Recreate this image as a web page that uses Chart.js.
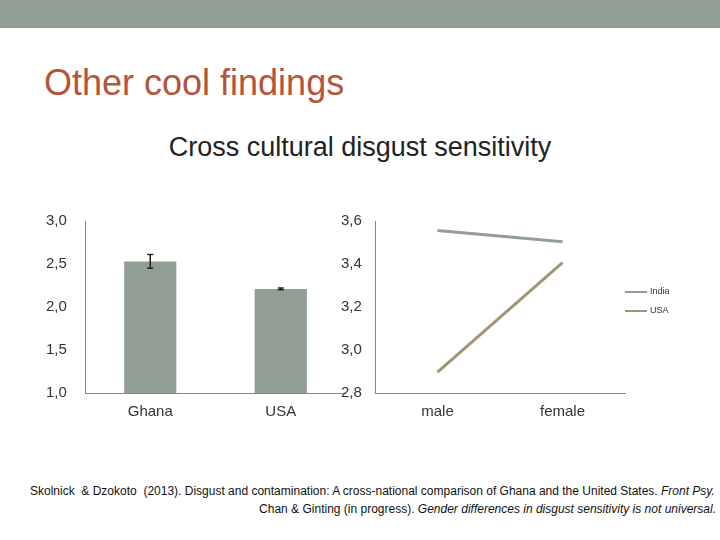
<!DOCTYPE html><html><head><meta charset="utf-8">
<script src="https://cdn.jsdelivr.net/npm/chart.js@4"></script>
<style>
body{margin:0;width:720px;height:540px;background:#fff;position:relative;overflow:hidden;font-family:"Liberation Sans",Arial,sans-serif}
#band{position:absolute;left:0;top:0;width:720px;height:28px;background:#929f95}
#t1{position:absolute;left:44px;top:62px;font-size:36px;color:#b5533c}
#t2{position:absolute;left:0;width:720px;top:132px;text-align:center;font-size:27px;color:#222}
.c{position:absolute}
#f1,#f2{position:absolute;right:4px;font-size:12px;color:#111;white-space:nowrap}
#f1{left:30px;top:484px;text-align:left}
#f2{top:502px}
.lg{position:absolute;left:625px;font-size:9px;color:#333}
.lg span{display:inline-block;width:22px;height:2px;vertical-align:middle;margin-right:3px}
</style></head><body>
<div id="band"></div>
<div id="t1">Other cool findings</div>
<div id="t2">Cross cultural disgust sensitivity</div>
<div class="c" style="left:46px;top:209px;width:300px;height:222px"><canvas id="a"></canvas></div>
<div class="c" style="left:341px;top:209px;width:290px;height:222px"><canvas id="b"></canvas></div>
<div class="lg" style="top:286px"><span style="background:#929f95"></span>India</div>
<div class="lg" style="top:305px"><span style="background:#a39377"></span>USA</div>
<div id="f1">Skolnick &nbsp;&amp; Dzokoto &nbsp;(2013). Disgust and contamination: A cross-national comparison of Ghana and the United States. <i>Front Psy.</i></div>
<div id="f2">Chan &amp; Ginting (in progress). <i>Gender differences in disgust sensitivity is not universal.</i></div>
<script>
const countries=["Ghana","USA"];
const meanDisgust=[2.53,2.21];
const errDisgust=[0.08,0.01];
const genders=["male","female"];
const indiaVals=[3.556,3.503];
const usaVals=[2.897,3.406];
const fmt=v=>v.toFixed(1).replace('.',',');
const tickFont={size:15,family:"Liberation Sans"};
function axes(min,max,step,w){return{
 x:{grid:{display:false,drawTicks:false},border:{color:'#888'},ticks:{color:'#333',font:tickFont,padding:10}},
 y:{min,max,afterFit:s=>{s.width=w;},ticks:{stepSize:step,callback:v=>fmt(v),color:'#333',font:tickFont,crossAlign:'far'},grid:{display:false,drawTicks:true,tickLength:5,tickColor:'#888'},border:{color:'#888'}}
};}
const errPlugin={id:'err',afterDatasetsDraw(ch){const m=ch.getDatasetMeta(0),y=ch.scales.y,c=ch.ctx;c.save();c.strokeStyle='#222';c.lineWidth=1.5;
 m.data.forEach((b,i)=>{const e=errDisgust[i],v=meanDisgust[i];const t=y.getPixelForValue(v+e),bo=y.getPixelForValue(v-e);c.beginPath();c.moveTo(b.x,t);c.lineTo(b.x,bo);c.moveTo(b.x-3,t);c.lineTo(b.x+3,t);c.moveTo(b.x-3,bo);c.lineTo(b.x+3,bo);c.stroke();});c.restore();}};
new Chart(document.getElementById('a'),{type:'bar',data:{labels:countries,datasets:[{data:meanDisgust,backgroundColor:'#929f95',barPercentage:0.8,categoryPercentage:0.5}]},
 options:{responsive:true,maintainAspectRatio:false,animation:false,plugins:{legend:{display:false}},layout:{padding:{right:0}},scales:axes(1,3,0.5,39)},plugins:[errPlugin]});
new Chart(document.getElementById('b'),{type:'line',data:{labels:genders,datasets:[
 {label:'India',data:indiaVals,borderColor:'#929f95',borderWidth:3,pointRadius:0},
 {label:'USA',data:usaVals,borderColor:'#a39377',borderWidth:3,pointRadius:0}]},
 options:{responsive:true,maintainAspectRatio:false,animation:false,plugins:{legend:{display:false}},layout:{padding:{right:6}},
 scales:Object.assign(axes(2.8,3.6,0.2,34),{})}});
Chart.getChart('b').options.scales.x.offset=true;Chart.getChart('b').update();
</script></body></html>
